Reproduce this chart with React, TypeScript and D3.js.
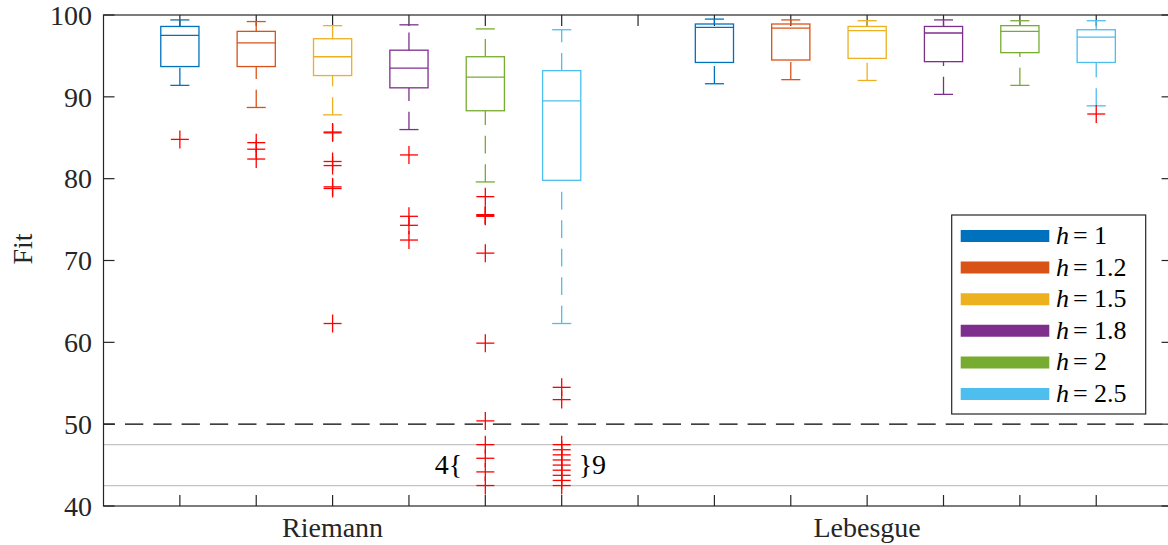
import React from "react";
import * as d3 from "d3";

const groupLabels = ["Riemann", "Lebesgue"];
const groupLabelPositions = [3, 10];
const hLabels = ["1", "1.2", "1.5", "1.8", "2", "2.5"];
const seriesColors = ["#0072BD", "#D95319", "#EDB120", "#7E2F8E", "#77AC30", "#4DBEEE"];
const xTickPositions = [1, 2, 3, 4, 5, 6, 7, 8, 9, 10, 11, 12, 13];
const yTicks = [40, 50, 60, 70, 80, 90, 100];

const riemannPositions = [1, 2, 3, 4, 5, 6];
const riemannLower = [91.4, 88.7, 87.8, 86.0, 79.6, 62.3];
const riemannQ1 = [93.7, 93.7, 92.6, 91.1, 88.3, 79.8];
const riemannMedian = [97.5, 96.6, 94.9, 93.5, 92.4, 89.5];
const riemannQ3 = [98.6, 98.0, 97.1, 95.7, 94.9, 93.2];
const riemannUpper = [99.4, 99.2, 98.7, 98.8, 98.3, 98.2];
const riemannOutliers = [
  [84.8],
  [84.4, 83.6, 82.4],
  [85.6, 85.7, 82.1, 81.6, 79.0, 78.8, 62.3],
  [82.9, 75.4, 74.3, 72.5],
  [77.8, 75.6, 75.5, 75.4, 70.9, 59.9, 50.4],
  [54.5, 53.0],
];
const riemannClippedCounts = [0, 0, 0, 0, 4, 9];

const lebesguePositions = [8, 9, 10, 11, 12, 13];
const lebesgueLower = [91.6, 92.1, 92.0, 90.3, 91.4, 88.9];
const lebesgueQ1 = [94.2, 94.5, 94.7, 94.3, 95.4, 94.2];
const lebesgueMedian = [98.5, 98.4, 98.1, 97.8, 98.0, 97.3];
const lebesgueQ3 = [98.9, 98.9, 98.6, 98.6, 98.7, 98.2];
const lebesgueUpper = [99.5, 99.4, 99.3, 99.4, 99.3, 99.3];
const lebesgueOutliers = [[], [], [], [], [], [87.9]];
const lebesgueClippedCounts = [0, 0, 0, 0, 0, 0];

const thresholdValue = 50;
const clipBandTop = 47.5;
const clipBandBottom = 42.5;

type Box = {
  pos: number;
  color: string;
  lower: number;
  q1: number;
  median: number;
  q3: number;
  upper: number;
  outliers: number[];
  clipped: number;
};

function buildBoxes(
  positions: number[],
  lower: number[],
  q1: number[],
  median: number[],
  q3: number[],
  upper: number[],
  outliers: number[][],
  clipped: number[]
): Box[] {
  return positions.map((p, i) => ({
    pos: p,
    color: seriesColors[i],
    lower: lower[i],
    q1: q1[i],
    median: median[i],
    q3: q3[i],
    upper: upper[i],
    outliers: outliers[i],
    clipped: clipped[i],
  }));
}

const boxes: Box[] = [
  ...buildBoxes(riemannPositions, riemannLower, riemannQ1, riemannMedian, riemannQ3, riemannUpper, riemannOutliers, riemannClippedCounts),
  ...buildBoxes(lebesguePositions, lebesgueLower, lebesgueQ1, lebesgueMedian, lebesgueQ3, lebesgueUpper, lebesgueOutliers, lebesgueClippedCounts),
];

const W = 1168;
const H = 545;
const FONT = "Liberation Serif, DejaVu Serif, serif";
const AX = "#262626";

export default function App() {
  const x = d3.scaleLinear().domain([0, 14]).range([103.5, 1172.6]);
  const y = d3.scaleLinear().domain([40, 100]).range([506, 15]);
  const unit = x(1) - x(0);
  const boxHalf = unit * 0.25;
  const capHalf = unit * 0.125;
  const plus = 9;
  const dash = "17.7 10.8";
  const left = x(0);
  const right = x(14);
  const top = y(100);
  const bottom = y(40);
  const tickLen = 11;

  const clippedValues = (n: number) =>
    n <= 0 ? [] : n === 1 ? [clipBandTop] : d3.range(n).map((i) => clipBandTop - (i * (clipBandTop - clipBandBottom)) / (n - 1));

  const legendX = 951.7;
  const legendY = 215;
  const legendW = 194;
  const legendH = 199;
  const rowH = 31.6;
  const txt = { fontFamily: FONT } as React.CSSProperties;

  return (
    <svg width={W} height={H} style={{ position: "absolute", left: 0, top: 0, background: "#fff" }}>
      {[clipBandTop, clipBandBottom].map((v) => (
        <line key={v} x1={left} x2={right} y1={y(v)} y2={y(v)} stroke="#c4c4c4" strokeWidth={1.2} />
      ))}
      <line
        x1={left}
        x2={right}
        y1={y(thresholdValue)}
        y2={y(thresholdValue)}
        stroke="#000"
        strokeWidth={1.4}
        strokeDasharray="18.3 10"
        strokeDashoffset={6.8}
      />
      <rect x={left} y={top} width={right - left} height={bottom - top} fill="none" stroke={AX} strokeWidth={1.2} />
      {xTickPositions.map((t) => (
        <g key={t}>
          <line x1={x(t)} x2={x(t)} y1={bottom} y2={bottom - tickLen} stroke={AX} strokeWidth={1.2} />
          <line x1={x(t)} x2={x(t)} y1={top} y2={top + tickLen} stroke={AX} strokeWidth={1.2} />
        </g>
      ))}
      {yTicks.map((t) => (
        <g key={t}>
          <line x1={left} x2={left + tickLen} y1={y(t)} y2={y(t)} stroke={AX} strokeWidth={1.2} />
          <line x1={right} x2={right - tickLen} y1={y(t)} y2={y(t)} stroke={AX} strokeWidth={1.2} />
          <text x={92} y={y(t)} dy="0.35em" textAnchor="end" style={txt} fontSize={28} fill={AX}>
            {t}
          </text>
        </g>
      ))}
      {boxes.map((b, i) => {
        const cx = x(b.pos);
        return (
          <g key={i} stroke={b.color} strokeWidth={1.3} fill="none">
            <line x1={cx} x2={cx} y1={y(b.q3)} y2={y(b.upper)} strokeDasharray={dash} />
            <line x1={cx} x2={cx} y1={y(b.lower)} y2={y(b.q1)} strokeDasharray={dash} />
            <line x1={cx - capHalf} x2={cx + capHalf} y1={y(b.upper)} y2={y(b.upper)} />
            <line x1={cx - capHalf} x2={cx + capHalf} y1={y(b.lower)} y2={y(b.lower)} />
            <rect x={cx - boxHalf} y={y(b.q3)} width={2 * boxHalf} height={y(b.q1) - y(b.q3)} />
            <line x1={cx - boxHalf} x2={cx + boxHalf} y1={y(b.median)} y2={y(b.median)} />
            {[...b.outliers, ...clippedValues(b.clipped)].map((v, j) => (
              <g key={j} stroke="#FF0000" strokeWidth={1.3}>
                <line x1={cx - plus} x2={cx + plus} y1={y(v)} y2={y(v)} />
                <line x1={cx} x2={cx} y1={y(v) - plus} y2={y(v) + plus} />
              </g>
            ))}
          </g>
        );
      })}
      <text x={x(5) - 23} y={474} textAnchor="end" style={txt} fontSize={28} fill="#000">
        {`${riemannClippedCounts[4]}{`}
      </text>
      <text x={x(6) + 17} y={474} textAnchor="start" style={txt} fontSize={28} fill="#000">
        {`}${riemannClippedCounts[5]}`}
      </text>
      {groupLabels.map((g, i) => (
        <text key={g} x={x(groupLabelPositions[i])} y={537} textAnchor="middle" style={txt} fontSize={28} fill={AX}>
          {g}
        </text>
      ))}
      <text transform="translate(32,249) rotate(-90)" textAnchor="middle" style={txt} fontSize={28} fill={AX}>
        Fit
      </text>
      <rect x={legendX} y={legendY} width={legendW} height={legendH} fill="#fff" stroke={AX} strokeWidth={1.2} />
      {hLabels.map((h, i) => {
        const cy = legendY + 21 + i * rowH;
        return (
          <g key={h}>
            <line x1={960.7} x2={1049.3} y1={cy} y2={cy} stroke={seriesColors[i]} strokeWidth={12} />
            <text x={1056} y={cy + 8} style={txt} fontSize={26} fill="#000">
              <tspan fontStyle="italic">h</tspan>
              <tspan x={1073}>=</tspan>
              <tspan x={1094}>{h}</tspan>
            </text>
          </g>
        );
      })}
    </svg>
  );
}
